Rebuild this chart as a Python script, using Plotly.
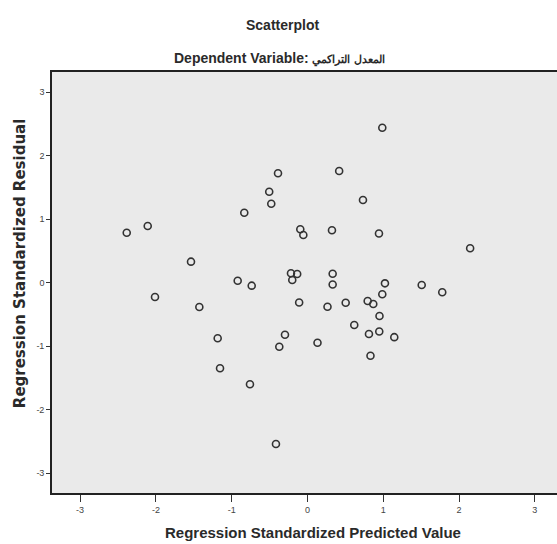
import plotly.graph_objects as go

# Regression standardized predicted values (x) and residuals (y)
predicted = [-2.385, -2.108, -2.012, -1.537, -1.427, -1.185, -1.154, -0.921, -0.834, -0.759,
             -0.736, -0.505, -0.478, -0.416, -0.389, -0.372, -0.297, -0.218, -0.136, -0.201,
             -0.110, -0.095, -0.055, 0.132, 0.264, 0.323, 0.332, 0.332, 0.418, 0.504,
             0.617, 0.732, 0.794, 0.868, 0.811, 0.831, 0.943, 0.950, 0.947, 0.987,
             0.987, 1.022, 1.145, 1.507, 1.778, 2.146]
residual = [0.784, 0.890, -0.228, 0.328, -0.386, -0.879, -1.351, 0.028, 1.099, -1.602,
            -0.050, 1.430, 1.241, -2.543, 1.720, -1.011, -0.822, 0.145, 0.134, 0.039,
            -0.315, 0.838, 0.748, -0.948, -0.381, 0.822, 0.137, -0.031, 1.756, -0.318,
            -0.669, 1.299, -0.291, -0.339, -0.811, -1.154, 0.772, -0.528, -0.772, -0.184,
            2.438, -0.013, -0.861, -0.039, -0.154, 0.539]

tick_vals = [-3, -2, -1, 0, 1, 2, 3]
tick_text = ["-3", "-2", "-1", "0", "1", "2", "3"]

title_text = "Scatterplot"
subtitle_label = "Dependent Variable: "
subtitle_value = "المعدل التراكمي"
x_title = "Regression Standardized Predicted Value"
y_title = "Regression Standardized Residual"

FONT = "Liberation Sans, Arial, sans-serif"
WIDE = "DejaVu Sans, Verdana, sans-serif"
INK = "#2a2a2a"

fig = go.Figure()
fig.add_trace(go.Scatter(
    x=predicted, y=residual, mode="markers",
    marker=dict(symbol="circle-open", size=7, color="#333333", line=dict(width=1.6, color="#333333")),
    showlegend=False, hoverinfo="x+y",
))

fig.update_layout(
    width=557, height=544,
    margin=dict(l=52, r=0, t=72, b=51),
    paper_bgcolor="white",
    plot_bgcolor="#eaeaea",
    font=dict(family=FONT, color=INK),
    xaxis=dict(
        range=[-3.371, 3.292], tickvals=tick_vals, ticktext=tick_text, automargin=False,
        showgrid=False, zeroline=False, showline=True, linecolor="#222222", linewidth=1.6,
        mirror=True, ticks="outside", ticklen=7, tickwidth=1, tickcolor="#333333",
        tickfont=dict(size=9, color="#444444", family=FONT),
    ),
    yaxis=dict(
        range=[-3.315, 3.315], tickvals=tick_vals, ticktext=tick_text, automargin=False,
        showgrid=False, zeroline=False, showline=True, linecolor="#222222", linewidth=1.6,
        ticks="outside", ticklen=4, tickwidth=1, tickcolor="#333333",
        tickfont=dict(size=9, color="#444444", family=FONT),
    ),
    annotations=[
        dict(text="<b>" + title_text + "</b>", xref="paper", yref="paper", x=0.457, y=1.111,
             xanchor="center", yanchor="middle", showarrow=False,
             font=dict(size=14, color=INK, family=FONT)),
        dict(text="<b>" + subtitle_label + "<span style='font-size:11px'>" + subtitle_value + "</span></b>",
             xref="paper", yref="paper", x=0.45, y=1.031,
             xanchor="center", yanchor="middle", showarrow=False,
             font=dict(size=14, color=INK, family=FONT)),
        dict(text="<b>" + x_title + "</b>", xref="paper", yref="paper", x=0.517, y=-0.095,
             xanchor="center", yanchor="middle", showarrow=False,
             font=dict(size=15, color=INK, family=FONT)),
        dict(text="<b>" + y_title + "</b>", xref="paper", yref="paper", x=-0.063, y=0.544,
             xanchor="center", yanchor="middle", showarrow=False, textangle=-90,
             font=dict(size=15, color=INK, family=WIDE)),
    ],
)

fig.write_html("out.html", config={"displayModeBar": False},
               post_script="document.body.style.margin='0';")
